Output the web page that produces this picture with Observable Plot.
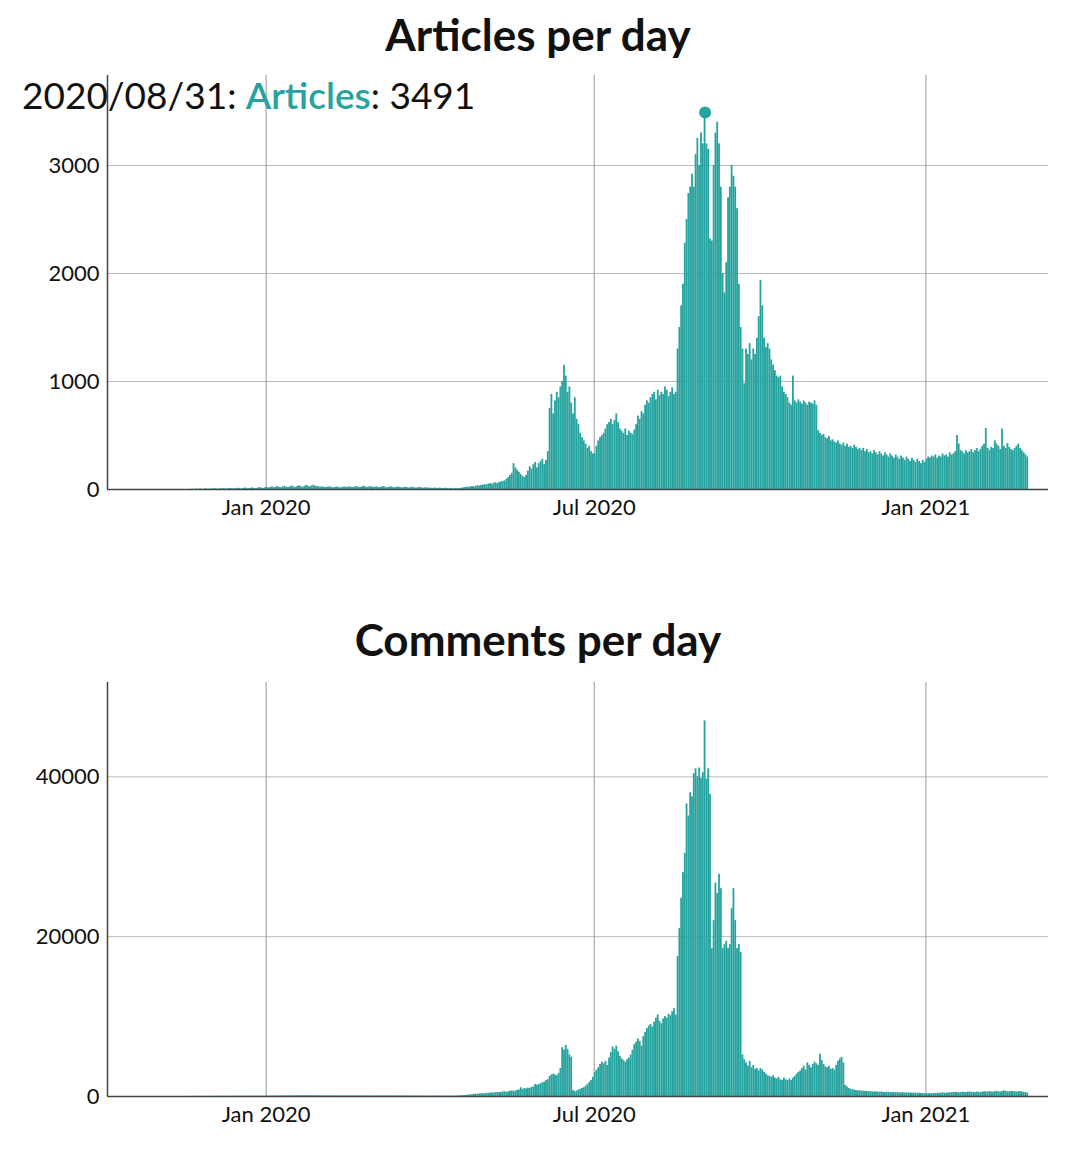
<!DOCTYPE html>
<html><head><meta charset="utf-8">
<script src="https://cdn.jsdelivr.net/npm/d3@7"></script>
<script src="https://cdn.jsdelivr.net/npm/@observablehq/plot@0.6"></script>
<style>
body{margin:0;background:#fff;font-family:Lato,sans-serif;}
#wrap{position:relative;width:1076px;height:1153px;}
.title{position:absolute;left:0;width:1076px;text-align:center;font-weight:700;font-size:44px;color:#111;}
.plot{position:absolute;left:0;}
#tip{position:absolute;left:22px;top:72px;font-size:37px;color:#111;white-space:nowrap;}
#tip b{color:#26a39e;font-weight:600;}
</style></head><body>
<div id="wrap">
<div class="title" style="top:8px">Articles per day</div>
<div class="plot" id="p1" style="top:65px"></div>
<div class="title" style="top:613px">Comments per day</div>
<div class="plot" id="p2" style="top:672px"></div>
<div id="tip">2020/08/31: <b>Articles</b>: 3491</div>
</div>
<script>
const startDate = "2019-11-20";
const tickDates = ["2020-01-01","2020-07-01","2021-01-01"];
const tickLabels = ["Jan 2020","Jul 2020","Jan 2021"];
const highlight = {date:"2020-08-31", label:"Articles", value:3491};

const articles = [
// Nov 20-30 2019
2,3,1,4,2,5,3,2,6,4,3,
// Dec 2019
5,4,8,6,3,7,5,9,6,4,8,10,7,5,9,12,8,6,10,14,9,7,11,15,10,8,12,18,13,10,15,
// Jan 2020
20,14,18,25,16,22,28,20,17,24,30,22,19,26,33,24,20,28,35,26,22,30,38,29,25,33,40,30,27,24,22,
// Feb
25,20,18,22,26,19,17,21,24,18,16,20,23,19,22,26,20,18,24,28,21,19,25,30,22,20,26,24,21,
// Mar
22,25,19,18,24,27,20,17,21,25,19,16,20,23,18,15,19,22,17,14,18,21,16,13,17,20,15,12,16,14,13,
// Apr
12,10,14,11,9,13,10,8,12,9,7,11,8,6,10,7,9,12,15,18,22,20,25,28,24,30,35,32,38,40,
// May
45,42,50,55,48,58,62,55,65,70,75,80,95,110,130,150,240,200,180,160,140,120,110,130,170,210,190,230,250,200,240,
// Jun
260,280,230,270,350,750,880,700,820,900,850,950,1000,1150,1050,900,950,800,700,850,650,600,520,480,450,420,380,400,350,330,
// Jul
330,400,450,480,500,520,560,600,620,650,600,640,700,620,560,540,520,560,500,540,520,510,550,600,680,650,720,700,780,820,800,
// Aug
850,880,900,830,920,870,900,880,950,920,860,900,940,880,900,1300,1500,1700,1900,2280,2500,2740,2800,2920,2800,3100,3250,3000,3300,3200,3491,
// Sep
3200,3150,2320,2300,3000,3300,3400,3200,2800,2000,1820,2100,2700,2800,3000,2900,2800,2600,1900,1500,1300,980,1300,1250,1350,1200,1300,1250,1400,1600,
// Oct
1935,1700,1400,1315,1350,1300,1200,1150,1100,1050,1035,1050,950,900,880,850,800,780,1050,820,800,830,810,790,820,800,780,810,800,790,820,
// Nov
780,545,520,500,510,480,470,490,450,460,440,430,450,420,410,430,400,420,390,400,380,410,390,370,380,360,380,350,370,340,
// Dec
350,330,360,340,320,350,330,310,340,320,300,330,310,290,320,300,280,310,290,270,300,280,260,290,270,250,280,260,240,270,250,
// Jan 2021
280,300,290,310,300,320,290,310,300,330,310,320,300,340,320,330,350,500,420,360,350,330,360,340,350,370,340,360,380,350,370,
// Feb 2021 (1-26)
400,420,565,380,360,390,380,450,420,400,370,560,400,380,425,390,370,360,380,400,420,380,360,340,320,300
];

const comments = [
// Nov 20-30 2019
10,15,8,12,20,10,18,14,9,16,12,
// Dec
20,25,18,30,22,28,35,26,24,32,28,30,38,27,25,34,40,30,28,36,42,33,30,38,45,35,32,40,48,38,35,
// Jan 2020
50,45,60,55,70,62,58,75,68,80,72,65,85,78,90,82,76,95,88,100,92,85,105,96,110,100,92,88,80,85,78,
// Feb
75,70,80,72,68,78,74,65,70,76,68,62,72,66,74,70,64,68,75,70,66,72,68,64,70,66,72,68,65,
// Mar
70,65,72,68,62,75,70,64,68,72,66,60,70,65,68,62,58,66,60,55,62,58,52,60,56,50,58,54,48,55,52,
// Apr
50,48,55,52,46,54,50,45,52,48,44,50,46,55,60,70,80,95,110,130,150,175,200,230,260,300,280,320,350,330,
// May
360,400,380,420,450,430,480,500,470,520,550,600,520,580,650,700,620,680,750,800,1100,900,1000,950,1050,1000,1150,1200,1500,1400,1500,
// Jun
1600,1700,1800,2000,2100,2500,2700,2800,2700,2600,2900,3500,6100,5800,6400,5900,5200,4900,750,600,700,800,900,1000,1100,1300,1500,1760,2000,2400,
// Jul
3000,3300,3600,4000,4300,4100,4400,3900,4800,5500,6200,5900,6300,5600,5000,4700,4500,4300,4600,4800,5200,5800,6500,6800,7200,6900,6300,7500,8000,8500,8800,
// Aug
9000,8700,9300,9800,10200,9400,9100,9700,10000,9800,10300,10100,10600,11000,10200,
17500,21000,24800,28000,30400,36600,35100,38000,37500,40400,41000,40000,41100,39800,40500,47000,
// Sep
39700,41000,37800,18500,22000,26700,25400,27800,26000,18500,19000,19400,18500,19000,23500,26000,22000,18500,19000,18000,5200,
4600,4200,3800,4400,3600,3900,3400,3500,3200,
// Oct
3500,3300,3000,2800,2600,2500,2400,2600,2300,2200,2400,2100,2000,2300,2100,2000,2200,2000,2300,2500,2800,3000,3200,3500,3800,3300,4200,3900,3600,4000,4300,
// Nov
4100,3900,5300,4500,4000,3700,3600,3800,3400,3500,3300,3900,4400,4700,4900,4200,1400,1200,1000,900,850,800,750,700,720,680,650,640,620,600,
// Dec
600,580,560,590,550,540,560,520,500,530,510,490,500,480,470,490,460,450,470,440,430,450,420,410,430,400,390,410,380,370,350,
// Jan 2021
330,350,340,360,380,370,400,390,420,450,430,410,460,440,480,500,520,480,460,500,540,510,490,530,560,520,500,480,550,530,510,
// Feb 2021 (1-26)
540,600,580,550,620,570,540,600,650,580,560,620,700,640,600,580,650,620,600,560,590,620,560,520,480,420
];

const teal = "#26a39e";
const s0 = new Date(startDate);
const toRows = arr => arr.map((v,i)=>({date:d3.utcDay.offset(s0,i), value:v}));
const xDomain = [new Date("2019-10-05"), new Date("2021-03-10")];
const ticks = tickDates.map(d=>new Date(d));
const fmt = d => tickLabels[ticks.findIndex(t=>+t===+d)];

function chart(rows, ymax, yticks, extra){
  return Plot.plot({
    width:1076, height: 10+414+40,
    marginTop:10, marginBottom:40, marginLeft:107, marginRight:28,
    style:{fontFamily:"Lato, sans-serif", fontSize:"22px", color:"#111", background:"#fff"},
    x:{type:"utc", domain:xDomain, ticks:ticks, tickFormat:fmt, tickSize:0, tickPadding:10, label:null},
    y:{domain:[0,ymax], ticks:yticks, tickFormat:d=>String(d), tickSize:0, tickPadding:8, label:null},
    marks:[
      Plot.gridY(yticks,{stroke:"#bbb", strokeOpacity:1}),
      Plot.gridX(ticks,{stroke:"#999", strokeOpacity:1}),
      Plot.rectY(rows,{x:"date", y:"value", interval:d3.utcDay, fill:teal, inset:0}),
      Plot.axisX({ticks:ticks, tickFormat:fmt, tickSize:0, tickPadding:10, fontSize:22}),
      Plot.axisY({ticks:yticks, tickFormat:d=>String(d), tickSize:0, tickPadding:8, fontSize:22}),
      Plot.ruleY([0],{stroke:"#444", strokeWidth:1.5}),
      Plot.ruleX([xDomain[0]],{stroke:"#444", strokeWidth:1.5}),
      ...(extra||[])
    ]
  });
}
const aRows = toRows(articles);
const cRows = toRows(comments);
const hl = [{date:d3.utcHour.offset(new Date(highlight.date),12), value:highlight.value}];
document.getElementById("p1").append(chart(aRows, 3833, [0,1000,2000,3000],
  [Plot.dot(hl,{x:"date", y:"value", r:6, fill:teal})]));
document.getElementById("p2").append(chart(cRows, 51800, [0,20000,40000]));
</script>
</body></html>
